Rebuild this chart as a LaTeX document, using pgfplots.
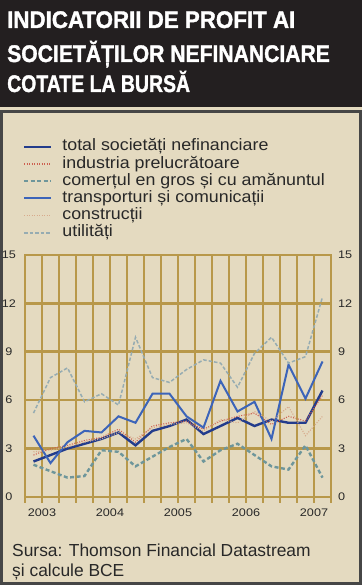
\documentclass[border=0pt]{standalone}
\usepackage{pgfplots}
\pgfplotsset{compat=1.18}
\usepackage{pgfplotstable}
\usepackage{graphicx}
\usepackage{fontspec}
\setmainfont{Liberation Sans}
\newfontfamily\legfont[FakeStretch=1.08]{Liberation Sans}
\newfontfamily\tickfont[FakeStretch=1.15]{Liberation Sans}
\newfontfamily\titlefont[FakeBold=1.6]{Liberation Sans Bold}
\definecolor{bgbeige}{RGB}{228,218,192}
\definecolor{gridgold}{RGB}{184,152,74}
\definecolor{titleblack}{RGB}{35,31,32}
\definecolor{framegray}{RGB}{70,70,70}
\definecolor{txtgray}{RGB}{40,40,40}
\definecolor{cTotal}{RGB}{35,60,140}
\definecolor{cInd}{RGB}{205,95,80}
\definecolor{cCom}{RGB}{110,150,155}
\definecolor{cTrans}{RGB}{60,100,185}
\definecolor{cCons}{RGB}{215,170,140}
\definecolor{cUtil}{RGB}{150,172,178}

\pgfplotstableread{
x    total ind com trans cons util
0.5  2.2   2.6 2.0 3.8   2.8  5.2
1.5  2.6   3.0 1.6 2.1   2.9  7.4
2.5  3.0   3.2 1.2 3.4   3.1  8.0
3.5  3.3   3.5 1.3 4.1   3.4  5.9
4.5  3.6   3.7 2.9 4.0   3.6  6.4
5.5  4.0   4.2 2.8 5.0   4.0  5.7
6.5  3.2   3.4 1.9 4.6   3.6  9.9
7.5  4.1   4.4 2.5 6.4   4.3  7.4
8.5  4.4   4.6 3.1 6.4   4.5  7.1
9.5  4.8   4.7 3.6 5.0   4.6  7.9
10.5 3.9   4.2 2.2 4.3   4.1  8.5
11.5 4.4   4.7 2.9 7.2   4.8  8.3
12.5 4.9   5.0 3.3 5.3   4.6  6.8
13.5 4.4   5.2 2.6 5.9   5.3  8.9
14.5 4.8   4.5 1.9 3.6   4.7  9.9
15.5 4.6   5.0 1.7 8.2   5.6  8.3
16.5 4.6   4.7 3.2 6.1   3.8  8.7
17.5 6.6   6.3 1.2 8.4   5.0  12.4
}\data

\begin{document}
\begin{tikzpicture}
\path[use as bounding box] (0pt,0pt) rectangle (362pt,585pt);
\fill[bgbeige] (0pt,0pt) rectangle (362pt,479pt);
\fill[titleblack] (0pt,478pt) rectangle (362pt,585pt);
\draw[framegray, line width=3pt] (1.5pt,1.5pt) rectangle (360.5pt,473.5pt);

\node[anchor=base west, inner sep=0pt, text=white] at (7pt,557pt)
  {\scalebox{0.93}[1]{\titlefont\fontsize{24}{24}\selectfont INDICATORII DE PROFIT AI}};
\node[anchor=base west, inner sep=0pt, text=white] at (7pt,523pt)
  {\scalebox{0.88}[1]{\titlefont\fontsize{24}{24}\selectfont SOCIETĂȚILOR NEFINANCIARE}};
\node[anchor=base west, inner sep=0pt, text=white] at (7pt,493pt)
  {\scalebox{0.81}[1]{\titlefont\fontsize{24}{24}\selectfont COTATE LA BURSĂ}};

\node[anchor=base west, inner sep=0pt, text=txtgray] at (12pt,28pt)
  {\fontsize{17.4}{19}\selectfont Sursa: Thomson Financial Datastream};
\node[anchor=base west, inner sep=0pt, text=txtgray] at (12pt,9pt)
  {\fontsize{17.4}{19}\selectfont și calcule BCE};

\begin{axis}[
  at={(25pt,88pt)}, anchor=south west,
  scale only axis, width=306pt, height=242pt,
  xmin=0, xmax=18, ymin=0, ymax=15,
  xtick={0,...,18},
  xticklabels={,2003,,,,2004,,,,2005,,,,2006,,,,2007,},
  ytick={0,3,...,15},
  xtick pos=bottom, ytick pos=left,
  grid=major,
  major grid style={gridgold, line width=2.6pt},
  axis line style={gridgold, line width=2.6pt},
  tick align=outside,
  major tick length=6pt,
  xtick style={gridgold, line width=2.6pt},
  ytick style={draw=none},
  /pgf/number format/assume math mode=true,
  tick label style={font=\tickfont\fontsize{11}{12}\selectfont, text=txtgray},
  yticklabel style={anchor=east, inner sep=0pt, xshift=-2pt, text width=16pt, align=center},
  xticklabel style={anchor=north, inner sep=0pt, yshift=-6pt},
  no markers,
  legend cell align=left,
  legend style={draw=none, fill=none, at={(-0.0065,1.48)}, anchor=north west,
    inner sep=0pt, outer sep=0pt, row sep=1.2pt, column sep=10pt,
    font=\legfont\fontsize{16.5}{17}\selectfont, text=txtgray,
    nodes={inner sep=0pt, text height=12pt, text depth=4pt}},
  legend image code/.code={\draw[#1] (0pt,0pt) -- (27pt,0pt);},
]
\addplot[cTotal, line width=2.4pt] table[x=x, y=total] {\data};
\addlegendentry{total societăți nefinanciare}
\addplot[cInd, line width=1.1pt, dash pattern=on 1pt off 1.5pt] table[x=x, y=ind] {\data};
\addlegendentry{industria prelucrătoare}
\addplot[cCom, line width=2.4pt, dash pattern=on 4pt off 2.5pt] table[x=x, y=com] {\data};
\addlegendentry{comerțul en gros și cu amănuntul}
\addplot[cTrans, line width=2pt] table[x=x, y=trans] {\data};
\addlegendentry{transporturi și comunicații}
\addplot[cCons, line width=1.1pt, dash pattern=on 1pt off 1.5pt] table[x=x, y=cons] {\data};
\addlegendentry{construcții}
\addplot[cUtil, line width=1.5pt, dash pattern=on 3.5pt off 2pt] table[x=x, y=util] {\data};
\addlegendentry{utilități}
\end{axis}

\begin{axis}[
  at={(25pt,88pt)}, anchor=south west,
  scale only axis, width=306pt, height=242pt,
  xmin=0, xmax=18, ymin=0, ymax=15,
  hide x axis,
  axis y line*=right,
  axis line style={draw=none},
  ytick={0,3,...,15},
  ytick style={draw=none},
  /pgf/number format/assume math mode=true,
  yticklabel style={font=\tickfont\fontsize{11}{12}\selectfont, text=txtgray, anchor=west, inner sep=0pt, xshift=7pt},
]
\end{axis}
\end{tikzpicture}
\end{document}
